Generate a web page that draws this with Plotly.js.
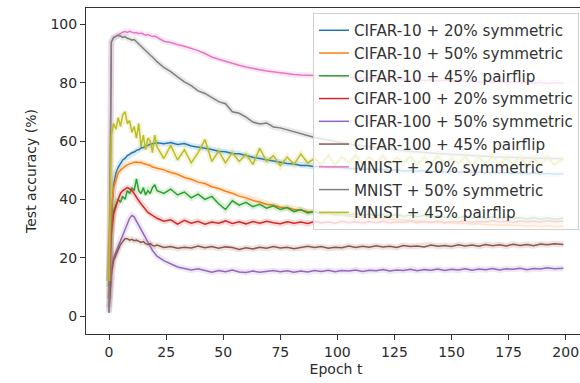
<!DOCTYPE html>
<html>
<head>
<meta charset="utf-8">
<script src="https://cdn.plot.ly/plotly-3.0.1.min.js"></script>
<style>
  html, body { margin: 0; padding: 0; background: #fff; overflow: hidden; }
  #chart { width: 586px; height: 383px; }
</style>
</head>
<body>
<div id="chart"></div>
<script>
// Training epochs at which test accuracy was recorded
const epochs = [0,1,2,3,4,5,6,7,8,9,10,11,12,13,14,15,16,17,18,19,20,21,
  24,27,30,33,36,39,42,45,48,51,
  54,57,60,63,66,69,72,75,78,81,
  84,87,90,93,96,99,102,105,108,111,
  114,117,120,123,126,129,132,135,138,141,
  144,147,150,153,156,159,162,165,168,171,
  174,177,180,183,186,189,192,195,199];

const seriesNames = [
  "CIFAR-10 + 20% symmetric",
  "CIFAR-10 + 50% symmetric",
  "CIFAR-10 + 45% pairflip",
  "CIFAR-100 + 20% symmetric",
  "CIFAR-100 + 50% symmetric",
  "CIFAR-100 + 45% pairflip",
  "MNIST + 20% symmetric",
  "MNIST + 50% symmetric",
  "MNIST + 45% pairflip"
];

// Test accuracy (%) per run
const cifar10Sym20 = [12,33,45,49,51,52.5,53.5,54,55,55.4,56,56.2,56.8,57,57.6,57.8,58.3,58.5,58.9,59,59.2,59.4,
  59.1,59.5,58.8,59.1,58.3,58.0,57.5,57.1,56.5,56.3,
  55.7,55.6,54.9,54.4,54.0,53.5,53.0,52.7,52.3,52.1,
  51.6,51.6,51.2,51.4,50.9,50.9,50.8,50.5,50.6,50.3,
  50.4,50.1,50.2,49.9,50.1,49.7,49.9,49.6,49.8,49.5,
  49.7,49.4,49.6,49.3,49.5,49.2,49.4,49.1,49.3,49.0,
  49.2,48.9,49.1,48.8,49.0,48.7,48.9,48.6,48.8];

const cifar10Sym50 = [12,36,44,47,49,50,50.8,51.3,51.8,52.2,52.4,52.7,52.8,52.6,52.7,52.3,52.1,51.8,51.6,51.1,50.9,50.5,
  50.1,49.2,48.6,47.5,46.9,45.9,45.4,44.3,43.7,42.8,
  42.1,41.1,40.5,39.6,39.1,38.3,38.0,37.3,37.1,36.5,
  36.3,35.8,35.7,35.2,35.1,34.7,34.6,34.2,34.2,33.8,
  33.8,33.4,33.5,33.1,33.1,32.8,32.8,32.5,32.5,32.2,
  32.3,31.9,32.0,31.7,31.8,31.5,31.6,31.3,31.4,31.1,
  31.3,31.0,31.1,30.8,31.0,30.7,30.9,30.6,30.8];

const cifar10Pair45 = [10,30,36,38,40,39,41,40,43,42,44,43,47,43,42,44,41.5,43,42,44,45,43,
  42,43.5,41.5,42.5,40.5,41.8,40,41,38.5,36.5,
  39.5,38,39,37.5,38.3,37,37.8,36.5,37.2,35.8,
  36.5,35.3,35.8,35.0,35.6,34.8,35.4,34.6,35.2,34.5,
  35.0,34.3,34.9,34.2,34.8,34.1,34.6,34.0,34.5,33.9,
  34.4,33.8,34.3,33.7,34.2,33.6,34.1,33.5,34.0,33.4,
  33.9,33.4,33.8,33.3,33.8,33.2,33.7,33.2,33.6];

const cifar100Sym20 = [6,28,35,38,40,42,43,43.5,44,43.6,43,42,40.5,39.5,38.5,37.5,36.5,35.5,35,34.5,34,33.5,
  32.5,33.0,31.5,32.8,31.8,32.5,31.5,32.2,31.8,32.6,
  31.7,32.3,31.6,32.4,31.8,32.5,32.0,31.6,32.3,31.8,
  32.2,31.7,32.4,31.9,32.3,31.8,32.5,32.0,32.3,31.9,
  32.4,32.0,32.5,31.9,32.3,32.1,32.6,32.0,32.4,32.1,
  32.5,32.0,32.4,32.2,32.6,32.1,32.5,32.2,32.7,32.2,
  32.5,32.1,32.6,32.3,32.5,32.2,32.7,32.3,32.5];

const cifar100Sym50 = [1.5,16,20,22,24,26,28,30,32,33.5,34.5,34,32.5,31,29.5,28,26.5,25,23.5,22.5,21.5,20.5,
  19.0,17.8,16.8,16.3,15.8,16.2,15.5,15.0,15.6,15.2,
  15.8,15.1,14.9,15.4,15.0,15.3,15.6,15.2,15.5,15.0,
  15.4,15.1,15.6,15.3,15.7,15.2,15.6,15.4,15.8,15.3,
  15.7,15.5,15.9,15.4,15.8,15.6,16.0,15.5,15.9,15.7,
  16.1,15.6,16.0,15.8,16.2,15.7,16.1,15.9,16.3,15.8,
  16.2,16.0,16.4,15.9,16.3,16.1,16.5,16.2,16.4];

const cifar100Pair45 = [3,14,19,21,23,24.5,25.5,26.5,26.5,26,26.3,25.8,26,25.5,25.2,25.5,24.8,24.5,24.8,24.2,24.0,24.3,
  23.5,23.8,23.2,23.6,23.3,24.0,23.4,23.8,23.2,23.7,
  23.5,22.8,23.4,23.0,23.6,23.2,23.8,23.3,23.6,23.1,
  23.4,23.9,23.5,23.8,23.2,23.6,23.4,24.0,23.5,23.9,
  23.6,24.1,23.7,23.9,23.5,24.2,23.8,24.0,23.7,24.3,
  23.9,24.2,23.8,24.4,24.0,24.3,23.9,24.5,24.1,24.4,
  24.0,24.6,24.2,24.5,24.1,24.7,24.4,24.8,24.5];

const mnistSym20 = [12,94,95.5,96,96.5,97,97.3,97.5,97.2,97.6,97.3,97.0,97.2,96.8,97.0,96.6,96.3,96.5,96.0,95.8,96.0,95.5,
  94.2,93.8,93.0,92.5,91.8,91.0,90.0,88.8,88.0,87.3,
  86.5,86.0,85.4,84.8,84.4,84.0,83.7,83.2,83.0,82.8,
  82.6,82.5,82.3,82.4,82.0,82.2,81.8,82.0,81.6,81.8,
  81.4,81.6,81.2,81.4,81.0,81.3,80.9,81.1,80.7,81.0,
  80.6,80.8,80.5,80.7,80.3,80.6,80.2,80.5,80.1,80.4,
  80.0,80.3,79.9,80.2,79.8,80.1,79.7,80.0,79.8];

const mnistSym50 = [1,94,95.5,96,96.2,96.0,95.5,95.8,95.2,95.0,94.6,94.8,94.0,93.4,92.5,91.8,91.0,90.3,89.5,88.8,88.0,87.2,
  85.2,83.8,82.0,80.3,79.0,77.2,76.3,75.0,73.5,72.8,
  70.0,69.5,68.2,66.5,65.8,66.2,64.8,64.5,63.8,63.2,
  62.5,61.8,61.2,60.8,60.3,59.9,59.4,59.1,58.6,58.4,
  58.0,57.8,57.4,57.2,56.9,56.7,56.4,56.3,56.0,55.9,
  55.7,55.6,55.4,55.3,55.1,55.0,54.9,54.8,54.6,54.6,
  54.4,54.4,54.3,54.2,54.1,54.1,54.0,53.9,53.9];

const mnistPair45 = [12,62,66,64,68,65,69,70,66,67,63,65,61,66,58,62,57,61,60,56,62,58,
  54,58.5,53.5,57,52.5,56,60.5,53,56.5,52.5,
  56,53,55.5,52,57.5,53,55,51.5,54.5,52,
  55.5,52.5,54,52,55,51.8,54.5,52.3,55.2,51.9,
  54.6,52.1,55.0,51.7,54.3,52.4,54.8,51.6,54.5,52.0,
  54.9,51.8,54.2,52.2,54.7,51.5,54.4,52.1,54.8,51.7,
  54.3,52.0,54.6,51.6,54.2,51.9,54.5,51.8,54.1];

const seriesValues = [cifar10Sym20, cifar10Sym50, cifar10Pair45,
  cifar100Sym20, cifar100Sym50, cifar100Pair45,
  mnistSym20, mnistSym50, mnistPair45];

const colors = ["#1f77b4","#ff7f0e","#2ca02c","#d62728","#9467bd",
  "#8c564b","#e377c2","#7f7f7f","#bcbd22"];

const xTicks = [0,25,50,75,100,125,150,175,200];
const yTicks = [0,20,40,60,80,100];

const traces = [];
seriesValues.forEach((vals, i) => {
  // soft spread band around each run
  traces.push({
    x: epochs, y: vals, type: "scatter", mode: "lines",
    line: { color: colors[i], width: 6 }, opacity: 0.16,
    showlegend: false, hoverinfo: "skip"
  });
  traces.push({
    x: epochs, y: vals, type: "scatter", mode: "lines",
    name: seriesNames[i],
    line: { color: colors[i], width: 1.5 }
  });
});

const axisFont = { family: "DejaVu Sans, sans-serif", size: 14, color: "#2a2a2a" };

const layout = {
  width: 586, height: 383,
  margin: { l: 86, r: 0, t: 8, b: 49 },
  paper_bgcolor: "#fff", plot_bgcolor: "#fff",
  font: axisFont,
  showlegend: true,
  legend: {
    x: 0.454, y: 0.985, xanchor: "left", yanchor: "top",
    bgcolor: "rgba(255,255,255,0.8)", bordercolor: "#d0d0d0", borderwidth: 1,
    font: { family: "DejaVu Sans, sans-serif", size: 15.2, color: "#333" },
    tracegroupgap: 0
  },
  xaxis: {
    range: [-10.1, 208.9], tickvals: xTicks, ticktext: xTicks.map(String),
    showline: true, mirror: true, linecolor: "#333", linewidth: 1,
    ticks: "outside", ticklen: 5, tickcolor: "#333",
    showgrid: false, zeroline: false, tickfont: axisFont,
    title: { text: "Epoch t", font: axisFont, standoff: 5 }
  },
  yaxis: {
    range: [-6.17, 105.6], tickvals: yTicks, ticktext: yTicks.map(String),
    showline: true, mirror: true, linecolor: "#333", linewidth: 1,
    ticks: "outside", ticklen: 5, tickcolor: "#333",
    showgrid: false, zeroline: false, tickfont: axisFont,
    title: { text: "Test accuracy (%)", font: axisFont, standoff: 10 }
  }
};

Plotly.newPlot("chart", traces, layout, { displayModeBar: false, staticPlot: true });
</script>
</body>
</html>
